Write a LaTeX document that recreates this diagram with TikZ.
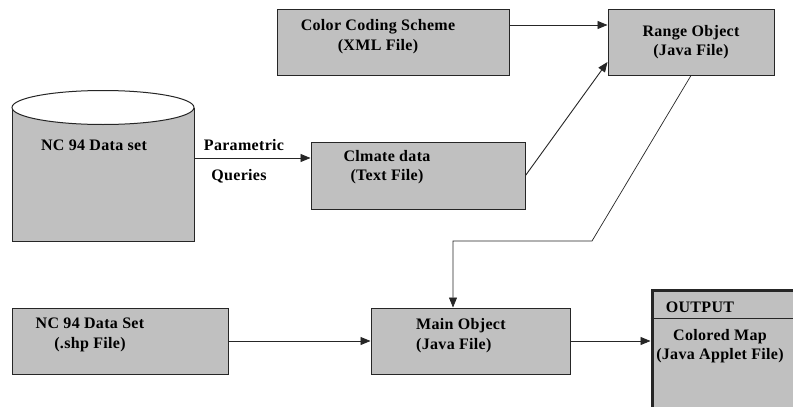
\documentclass[tikz,border=0pt]{standalone}
\usepackage{fontspec}
\setmainfont{Liberation Serif}[LetterSpace=2]
\usepackage{tikz}
\usetikzlibrary{arrows.meta, positioning}
\definecolor{boxgray}{RGB}{192,192,192}

\begin{document}
\begin{tikzpicture}[x=1pt, y=-1pt,
    font=\fontsize{16}{19.5}\selectfont\bfseries,
    block/.style={draw=black!85, line width=1pt, fill=boxgray, minimum height=66pt},
    txt/.style={align=center, inner sep=0pt},
    arrow/.style={-{Triangle[length=10pt, width=8pt]}, line width=0.9pt, black!85}
]
\path[fill=white, use as bounding box] (0,0) rectangle (793,407);

\node[block, minimum width=232pt] (cc) at (393,42) {};
\node[txt] (cctxt) at (378,36.5) {Color Coding Scheme\\(XML File)};
\node[block, minimum width=166pt, align=center] (rng) at (691,42) {Range Object\\(Java File)};

\node[block, minimum width=182pt, minimum height=133pt] (db) at (103,174.5) {};
\draw[draw=black!85, line width=1pt, fill=white] (db.north) ellipse [x radius=91pt, y radius=17pt];
\node[txt] (dbtxt) at (94,145.5) {NC 94 Data set};

\node[block, minimum width=214pt, minimum height=67pt] (clim) at (418,175.5) {};
\node[txt] (climtxt) at (387,167) {Clmate data\\(Text File)};

\coordinate (pq) at ([yshift=16.5pt]db.east);
\draw[arrow] (pq) -- (pq -| clim.west);
\node[txt] (par) at (244,145) {Parametric};
\node[txt] (que) at (239,176) {Queries};

\node[block, minimum width=216pt] (nc) at (120,341) {};
\node[txt] (nctxt) at (90,335) {NC 94 Data Set\\(.shp File)};
\node[block, minimum width=199pt] (main) at (470.5,341) {};
\node[txt, align=left, anchor=west] (maintxt) at (416,335.5) {Main Object\\(Java File)};

% output panel, runs past the right and bottom edge
\node[block, line width=3pt, minimum width=160pt, minimum height=140pt] (out) at (732,360) {};
\draw[line width=1pt, black!85] ([yshift=-30pt]out.north west) -- ([yshift=-30pt]out.north east);
\node[txt] (outhd) at (700,307) {OUTPUT};
\node[txt] (outtxt) at (720,346) {Colored Map\\(Java Applet File)};

\draw[arrow] ([yshift=17pt]cc.east) -- ([yshift=17pt]rng.west);
\draw[arrow] (clim.east) -- ([yshift=-20pt]rng.west);
\coordinate (kink) at (592,241);
\draw[arrow, line width=0.7pt] (rng.south) -- (kink) -| ([xshift=-17.5pt]main.north);
\draw[arrow] (nc) -- (main);
\draw[arrow] (main.east) -- (main.east -| out.west);

\end{tikzpicture}
\end{document}
